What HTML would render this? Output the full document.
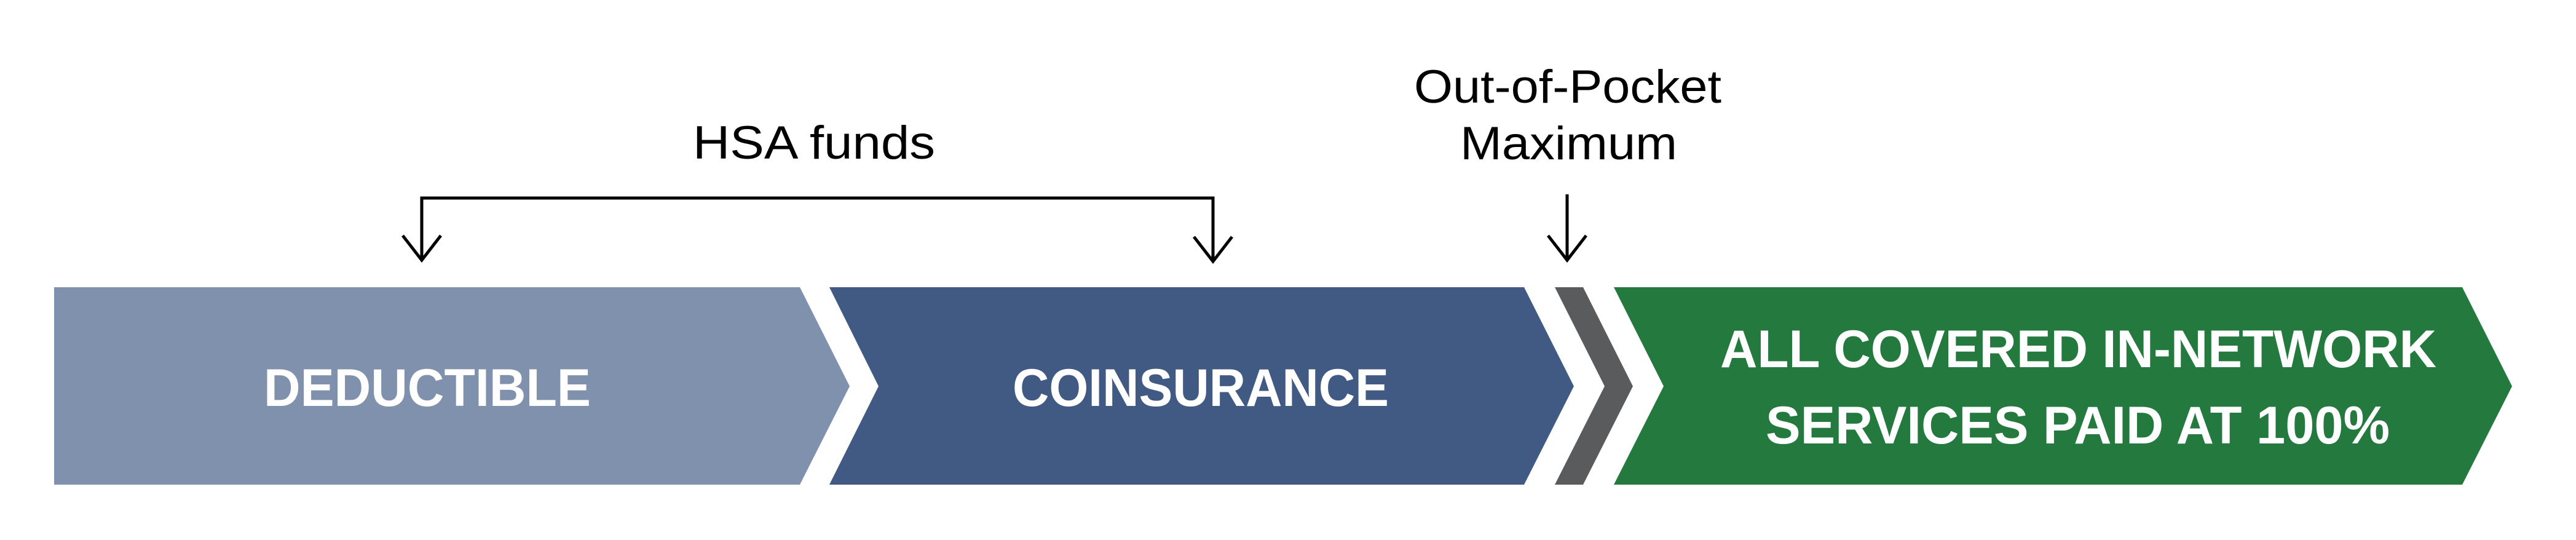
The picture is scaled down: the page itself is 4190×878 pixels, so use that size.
<!DOCTYPE html>
<html><head><meta charset="utf-8"><style>
html,body{margin:0;padding:0;background:#fff;}
svg{display:block}
</style></head><body>
<svg width="4190" height="878" viewBox="0 0 4190 878" xmlns="http://www.w3.org/2000/svg">
<rect width="4190" height="878" fill="#fff"/>
<polygon points="88,467 1301,467 1382,628 1301,788 88,788" fill="#8091ae"/>
<polygon points="1349,467 2479,467 2560,628 2479,788 1349,788 1429,628" fill="#415a84"/>
<polygon points="2529,467 2575,467 2656,628 2575,788 2529,788 2610,628" fill="#5a5b5d"/>
<polygon points="2625,467 4005,467 4086,628 4005,788 2625,788 2706,628" fill="#247a3e"/>
<g font-family="Liberation Sans, sans-serif" font-weight="bold" fill="#fff" font-size="86">
<text x="429" y="660" textLength="532" lengthAdjust="spacingAndGlyphs">DEDUCTIBLE</text>
<text x="1647" y="660" textLength="612" lengthAdjust="spacingAndGlyphs">COINSURANCE</text>
<text x="2798" y="597" textLength="1165" lengthAdjust="spacingAndGlyphs">ALL COVERED IN-NETWORK</text>
<text x="2872" y="721" textLength="1015" lengthAdjust="spacingAndGlyphs">SERVICES PAID AT 100%</text>
</g>
<g font-family="Liberation Sans, sans-serif" fill="#000" font-size="76">
<text x="1127" y="258" textLength="394" lengthAdjust="spacingAndGlyphs">HSA funds</text>
<text x="2300" y="167" textLength="500" lengthAdjust="spacingAndGlyphs">Out-of-Pocket</text>
<text x="2375" y="259" textLength="353" lengthAdjust="spacingAndGlyphs">Maximum</text>
</g>
<g stroke="#000" stroke-width="5" fill="none">
<polyline points="686,423 686,322 1973,322 1973,425"/>
<line x1="2549" y1="316" x2="2549" y2="423"/>
<polyline points="655,383 686,423 717,383"/>
<polyline points="1942,385 1973,425 2004,385"/>
<polyline points="2518,383 2549,423 2580,383"/>
</g>
</svg>
</body></html>
